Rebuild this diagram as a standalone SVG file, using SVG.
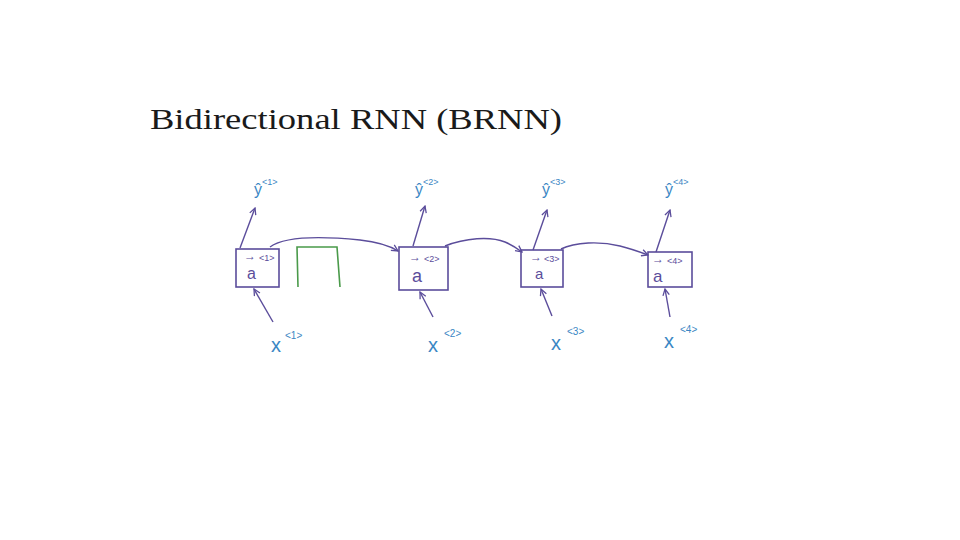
<svg xmlns="http://www.w3.org/2000/svg" width="960" height="540" viewBox="0 0 960 540">
<style>
.box{fill:none;stroke:#5b4d9b;stroke-width:1.6}
.ln{fill:none;stroke:#5b4d9b;stroke-width:1.4;marker-end:url(#ah)}
.lbl{font-family:"Liberation Sans",Arial,sans-serif;fill:#3b87c4}
.in{font-family:"Liberation Sans",Arial,sans-serif;fill:#5b4d9b}
.title{font-family:"Liberation Serif","Times New Roman",serif;font-size:30px;fill:#1a1a1a}
</style>
<defs>
<marker id="ah" viewBox="0 0 10 10" refX="9" refY="5" markerWidth="8" markerHeight="8" markerUnits="userSpaceOnUse" orient="auto">
<path d="M1,1 L9,5 L1,9" fill="none" stroke="#5b4d9b" stroke-width="1.6"/>
</marker>
</defs>
<rect width="960" height="540" fill="#ffffff"/>
<text class="title" x="150" y="129" textLength="412" lengthAdjust="spacingAndGlyphs">Bidirectional RNN (BRNN)</text>

<g id="connectors">
<path class="ln" d="M240,248 L255,208"/>
<path class="ln" d="M413,246 L425,206"/>
<path class="ln" d="M533,250 L547,210"/>
<path class="ln" d="M656,252 L670,210"/>
<path class="ln" d="M273,322 L254,289"/>
<path class="ln" d="M433,317 L420,292"/>
<path class="ln" d="M552,316 L541,289"/>
<path class="ln" d="M670,317 L665,289"/>
<path class="ln" d="M270,247 C285,236 320,236 360,240 C378,242 390,246 398,251"/>
<path class="ln" d="M445,246 C465,238 490,236 505,242 C512,245 518,249 522,252"/>
<path class="ln" d="M561,249 C575,242 600,241 620,246 C632,249 640,252 648,255"/>
</g>

<g id="green">
<path d="M298,287 L297,247 L337,247 L340,287" fill="none" stroke="#4a9a4a" stroke-width="1.6"/>
</g>

<g id="node1">
<rect class="box" x="236" y="249" width="43" height="38"/>
<text class="in" x="244" y="260" font-size="12">→</text>
<text class="in" x="259" y="261" font-size="9">&lt;1&gt;</text>
<text class="in" x="247" y="279" font-size="16">a</text>
</g>
<g id="node2">
<rect class="box" x="399" y="247" width="49" height="43"/>
<text class="in" x="409" y="261" font-size="12">→</text>
<text class="in" x="424" y="262" font-size="9">&lt;2&gt;</text>
<text class="in" x="412" y="282" font-size="18">a</text>
</g>
<g id="node3">
<rect class="box" x="521" y="250" width="42" height="37"/>
<text class="in" x="530" y="261" font-size="12">→</text>
<text class="in" x="544" y="262" font-size="9">&lt;3&gt;</text>
<text class="in" x="535" y="279" font-size="15">a</text>
</g>
<g id="node4">
<rect class="box" x="648" y="252" width="44" height="35"/>
<text class="in" x="652" y="263" font-size="12">→</text>
<text class="in" x="667" y="264" font-size="9">&lt;4&gt;</text>
<text class="in" x="653" y="282" font-size="17">a</text>
</g>

<g id="y1"><text class="lbl" x="254" y="195" font-size="16">ŷ<tspan font-size="9" dy="-10">&lt;1&gt;</tspan></text></g>
<g id="y2"><text class="lbl" x="415" y="195" font-size="16">ŷ<tspan font-size="9" dy="-10">&lt;2&gt;</tspan></text></g>
<g id="y3"><text class="lbl" x="542" y="195" font-size="16">ŷ<tspan font-size="9" dy="-10">&lt;3&gt;</tspan></text></g>
<g id="y4"><text class="lbl" x="665" y="195" font-size="16">ŷ<tspan font-size="9" dy="-10">&lt;4&gt;</tspan></text></g>

<g id="x1"><text class="lbl" x="271" y="352" font-size="20">x<tspan font-size="10" dx="4" dy="-13">&lt;1&gt;</tspan></text></g>
<g id="x2"><text class="lbl" x="428" y="352" font-size="20">x<tspan font-size="10" dx="6" dy="-15">&lt;2&gt;</tspan></text></g>
<g id="x3"><text class="lbl" x="551" y="350" font-size="20">x<tspan font-size="10" dx="6" dy="-15">&lt;3&gt;</tspan></text></g>
<g id="x4"><text class="lbl" x="664" y="348" font-size="20">x<tspan font-size="10" dx="6" dy="-15">&lt;4&gt;</tspan></text></g>
</svg>
